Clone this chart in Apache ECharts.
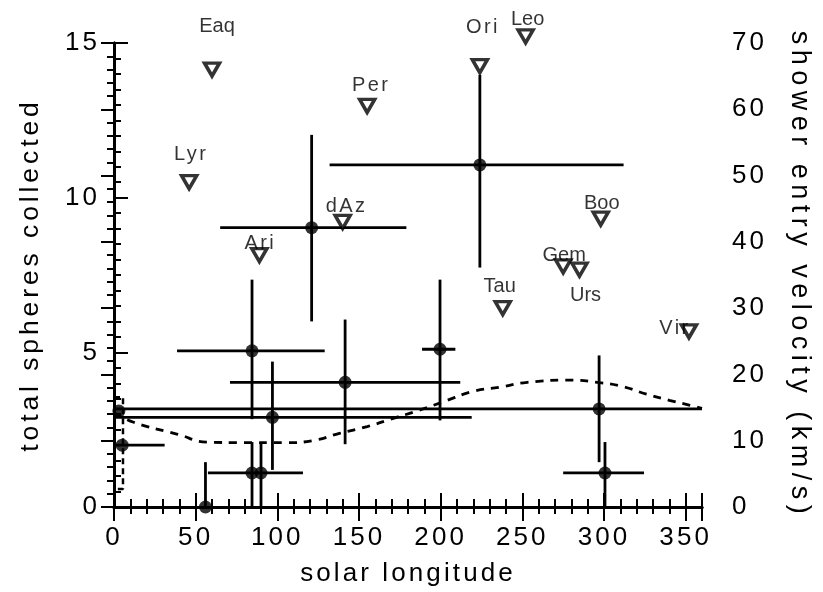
<!DOCTYPE html>
<html>
<head>
<meta charset="utf-8">
<script src="https://cdn.jsdelivr.net/npm/echarts@6/dist/echarts.min.js"></script>
<style>html,body{margin:0;padding:0;background:#fff}#c{width:823px;height:592px}</style>
</head>
<body>
<div id="c"></div>
<script>
// ---- data ----
const xTicks = [0, 50, 100, 150, 200, 250, 300, 350];
const leftTicks = [0, 5, 10, 15];
const rightTicks = [0, 10, 20, 30, 40, 50, 60, 70];

const sphLong    = [3,   5,  56,  84.5, 90,    84.5, 97,  121,   141.5, 199.6, 224,   297,  300.6];
const sphCount   = [3.1, 2,  0,   1.1,  1.1,   5.05, 2.9, 9.03,  4.03,  5.1,   11.06, 3.17, 1.1];
const sphLongLo  = [3,   0,  56,  84.5, 57.5,  38.6, 0,   65,    71,    188.6, 132,   0,    275];
const sphLongHi  = [3,   31, 56,  84.5, 115.7, 129,  219, 179,   212,   209,   312,   360,  324.5];
const sphCountLo = [3.1, 2,  0,   0,    0,     2.84, 1.2, 6.0,   2.03,  2.8,   7.74,  1.45, 0];
const sphCountHi = [3.1, 2,  1.45,2.1,  2.1,   7.35, 4.7, 12.03, 6.06,  7.35,  13.97, 4.9,  2.1];

const showerNames = ['Eaq', 'Lyr', 'Ari', 'dAz', 'Per', 'Ori', 'Leo', 'Tau', 'Gem', 'Urs', 'Boo', 'Vir'];
const showerLong  = [60,    46,    89,    140,   155,   224,   252,   238,   275,   285,   298,   352];
const showerVel   = [66,    49,    38,    43,    60.5,  66.5,  71,    30,    36.3,  35.8,  43.5,  26.5];

const curveLong = [0,    12,   39,   57,   79,   106,  122,  138,  155, 173, 183,  201,  220,  236,  253,  281, 296,  311, 326,  340,  355,  360];
const curveVal  = [3.05, 2.74, 2.35, 2.1,  2.08, 2.08, 2.15, 2.38, 2.6, 2.9, 3.06, 3.39, 3.74, 3.87, 4.03, 4.1, 4.03, 3.9, 3.65, 3.45, 3.26, 3.19];

const boxLong = [0,    5.5,  5.5,  0];
const boxVal  = [3.55, 3.55, 0.58, 0.58];

// ---- presentation ----
const labelOffsets = {
  Eaq: [5, -43], Lyr: [2, -28], Ari: [1, -12], dAz: [4, -15], Per: [4, -20], Ori: [3, -39],
  Leo: [2, -17], Tau: [-3, -22], Gem: [1, -11], Urs: [6, 26], Boo: [1, -15], Vir: [-14, -3]
};
const wideLabels = ['Lyr', 'Ari', 'dAz', 'Per', 'Ori', 'Vir'];

// letter spacing for the wide lettering of the original
(function () {
  const P = CanvasRenderingContext2D.prototype;
  if (!('letterSpacing' in P)) return;
  const of = P.fillText;
  const special = { '27': 5.5, '26.5': 3.9 };
  P.fillText = function (t, x, y, w) {
    const f = this.font || '';
    const m = /([\d.]+)px/.exec(f);
    const sz = m ? parseFloat(m[1]) : 12;
    const prev = this.letterSpacing;
    let ls = 0;
    if (/Liberation Sans/.test(f)) ls = special[String(sz)] !== undefined ? special[String(sz)] : sz * 0.12;
    this.letterSpacing = ls.toFixed(1) + 'px';
    const r = (w === undefined) ? of.call(this, t, x, y) : of.call(this, t, x, y, w);
    this.letterSpacing = prev;
    return r;
  };
})();

const FONT = 'Liberation Sans';
const chart = echarts.init(document.getElementById('c'), null, { renderer: 'canvas' });

const axisLine = { show: true, lineStyle: { color: '#000', width: 3 } };

const option = {
  animation: false,
  backgroundColor: '#fff',
  grid: { left: 114, right: 121, top: 43, bottom: 84, containLabel: false },
  xAxis: [
    {
      type: 'value', position: 'bottom', min: 0, max: 360, interval: 50,
      name: 'solar longitude', nameLocation: 'middle', nameGap: 54,
      nameTextStyle: { fontSize: 26, fontFamily: FONT, color: '#000' },
      axisLine: axisLine,
      axisTick: { show: true, inside: true, length: 14, lineStyle: { color: '#000', width: 2 } },
      minorTick: { show: true, splitNumber: 5, length: 8, lineStyle: { color: '#000', width: 2 } },
      axisLabel: {
        show: true, margin: 18, fontSize: 26, fontFamily: FONT, color: '#000', showMaxLabel: false,
        formatter: v => (xTicks.indexOf(v) >= 0 ? String(v) : '')
      },
      splitLine: { show: false }
    },
    {
      type: 'value', position: 'top', min: 0, max: 360, interval: 50,
      axisLine: axisLine,
      axisTick: { show: true, inside: true, length: 14, lineStyle: { color: '#000', width: 2 } },
      minorTick: { show: true, splitNumber: 5, length: 7, lineStyle: { color: '#000', width: 2 } },
      axisLabel: { show: false },
      splitLine: { show: false }
    }
  ],
  yAxis: [
    {
      type: 'value', position: 'left', min: 0, max: 15, interval: 5,
      name: 'total spheres collected', nameLocation: 'middle', nameGap: 70,
      nameTextStyle: { fontSize: 26.5, fontFamily: FONT, color: '#000' },
      axisLine: axisLine,
      axisTick: { show: true, inside: true, length: 14, lineStyle: { color: '#000', width: 2 } },
      minorTick: { show: true, splitNumber: 10, length: 7, lineStyle: { color: '#000', width: 2 } },
      axisLabel: {
        show: true, margin: 14, fontSize: 26, fontFamily: FONT, color: '#000',
        formatter: v => (leftTicks.indexOf(v) >= 0 ? String(v) : '')
      },
      splitLine: { show: false }
    },
    {
      type: 'value', position: 'right', min: 0, max: 70, interval: 10,
      name: 'shower entry velocity (km/s)', nameLocation: 'middle', nameGap: 84, nameRotate: -90,
      nameTextStyle: { fontSize: 27, fontFamily: FONT, color: '#000' },
      axisLine: axisLine,
      axisTick: { show: true, inside: true, length: 13, lineStyle: { color: '#000', width: 2 } },
      minorTick: { show: true, splitNumber: 5, length: 7, lineStyle: { color: '#000', width: 2 } },
      axisLabel: {
        show: true, margin: 30, fontSize: 26, fontFamily: FONT, color: '#000',
        formatter: v => (rightTicks.indexOf(v) >= 0 ? String(v) : '')
      },
      splitLine: { show: false }
    }
  ],
  series: [
    {
      type: 'line', xAxisIndex: 0, yAxisIndex: 0, smooth: true, symbol: 'none', silent: true,
      data: curveLong.map((x, i) => [x, curveVal[i]]),
      lineStyle: { color: '#000', width: 2.8, type: [8, 7] }, z: 2
    },
    {
      type: 'line', xAxisIndex: 0, yAxisIndex: 0, symbol: 'none', silent: true,
      data: boxLong.map((x, i) => [x, boxVal[i]]),
      lineStyle: { color: '#000', width: 2.5, type: [6, 4] }, z: 2
    },
    {
      type: 'custom', xAxisIndex: 0, yAxisIndex: 0, silent: true, z: 3,
      data: sphLong.map((x, i) => [x, sphCount[i], sphLongLo[i], sphLongHi[i], sphCountLo[i], sphCountHi[i]]),
      encode: { x: [0, 2, 3], y: [1, 4, 5] },
      renderItem: function (params, api) {
        const x = api.value(0), y = api.value(1);
        const children = [];
        const st = { stroke: '#000', lineWidth: 2.8, fill: null };
        if (api.value(3) > api.value(2)) {
          const a = api.coord([api.value(2), y]), b = api.coord([api.value(3), y]);
          children.push({ type: 'line', shape: { x1: a[0], y1: a[1], x2: b[0], y2: b[1] }, style: st });
        }
        if (api.value(5) > api.value(4)) {
          const a = api.coord([x, api.value(4)]), b = api.coord([x, api.value(5)]);
          children.push({ type: 'line', shape: { x1: a[0], y1: a[1], x2: b[0], y2: b[1] }, style: st });
        }
        return { type: 'group', children: children };
      }
    },
    {
      type: 'scatter', xAxisIndex: 0, yAxisIndex: 0, silent: true, z: 4, clip: false,
      symbol: 'circle', symbolSize: 13,
      itemStyle: { color: '#000' },
      data: sphLong.map((x, i) => [x, sphCount[i]])
    },
    {
      type: 'scatter', xAxisIndex: 0, yAxisIndex: 1, silent: true, z: 5, clip: false,
      symbol: 'triangle', symbolSize: [15, 13], symbolRotate: 180,
      itemStyle: { color: '#fff', borderColor: '#000', borderWidth: 3.5 },
      label: { show: true, position: 'inside', formatter: '{b}', color: '#000', fontSize: 20 },
      labelLayout: function (params) {
        const o = labelOffsets[showerNames[params.dataIndex]] || [0, 0];
        return { dx: o[0], dy: o[1], hideOverlap: false };
      },
      data: showerNames.map((n, i) => ({
        name: n,
        value: [showerLong[i], showerVel[i]],
        label: { fontFamily: wideLabels.indexOf(n) >= 0 ? FONT : 'Arial' }
      }))
    }
  ]
};
chart.setOption(option);
</script>
</body>
</html>
